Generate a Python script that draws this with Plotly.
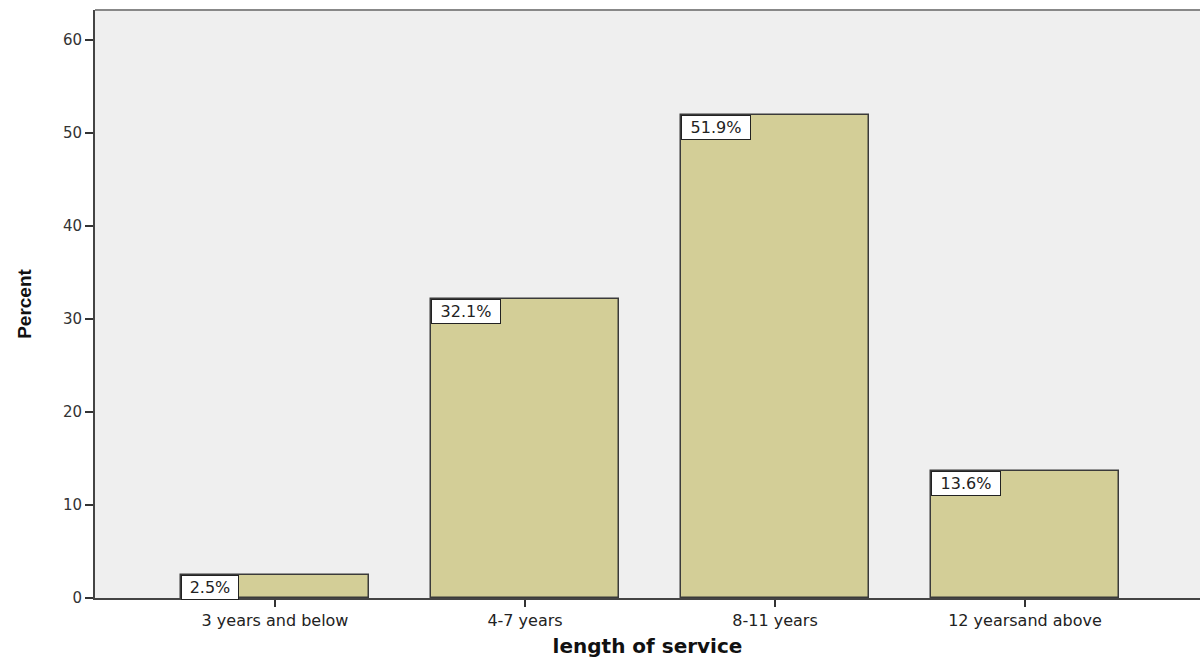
import plotly.graph_objects as go

categories = ["3 years and below", "4-7 years", "8-11 years", "12 yearsand above"]
percent = [2.5, 32.1, 51.9, 13.6]
y_ticks = [0, 10, 20, 30, 40, 50, 60]

BAR_W = 0.75

fig = go.Figure()
fig.add_trace(go.Bar(
    x=list(range(len(categories))),
    y=percent,
    width=BAR_W,
    marker=dict(color="#D3CE97", line=dict(color="#3a3a3a", width=1.5)),
    hoverinfo="skip",
))

for i, v in enumerate(percent):
    label = f"{v:.1f}%"
    fig.add_annotation(
        x=i - BAR_W / 2, y=v, xref="x", yref="y",
        text=label, showarrow=False,
        xanchor="left", yanchor="top",
        width=12 * len(label) + 4, height=19, align="center",
        bgcolor="white", bordercolor="#222", borderwidth=1, borderpad=2,
        font=dict(family="DejaVu Sans", size=16, color="#222"),
    )

fig.add_shape(type="line", xref="paper", yref="paper", x0=0, x1=1, y0=1, y1=1,
              line=dict(color="#888888", width=2))

fig.update_layout(
    width=1200, height=659,
    margin=dict(l=95, r=0, t=10, b=61),
    paper_bgcolor="white", plot_bgcolor="#EFEFEF",
    showlegend=False,
    bargap=0,
    xaxis=dict(
        range=[-0.72, 3.7],
        tickmode="array", tickvals=list(range(len(categories))), ticktext=categories,
        ticks="outside", ticklen=7, tickwidth=2, tickcolor="#333",
        showline=True, linecolor="#444", linewidth=2,
        showgrid=False, zeroline=False,
        tickfont=dict(family="DejaVu Sans", size=16, color="#222"),
        title=dict(text="length of service", standoff=10,
                   font=dict(family="DejaVu Sans", size=20, color="#111", weight="bold")),
    ),
    yaxis=dict(
        range=[0, 63.2],
        tickmode="array", tickvals=y_ticks,
        ticks="outside", ticklen=8, tickwidth=2, tickcolor="#333",
        showline=True, linecolor="#444", linewidth=2,
        showgrid=False, zeroline=False,
        tickfont=dict(family="DejaVu Sans", size=15, color="#333"),
        title=dict(text="Percent", standoff=26,
                   font=dict(family="Liberation Sans Narrow, Liberation Sans", size=19, color="#111", weight="bold")),
    ),
)

fig.write_html("out.html")
